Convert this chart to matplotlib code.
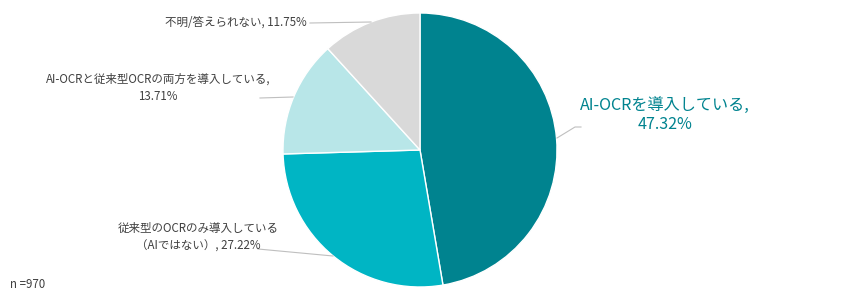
import matplotlib
matplotlib.use("Agg")
import matplotlib.pyplot as plt

plt.rcParams["font.family"] = ["Noto Sans CJK JP", "DejaVu Sans"]

labels = [
    "AI-OCRを導入している,\n47.32%",
    "従来型のOCRのみ導入している\n（AIではない）, 27.22%",
    "AI-OCRと従来型OCRの両方を導入している,\n13.71%",
    "不明/答えられない, 11.75%",
]
values = [47.32, 27.22, 13.71, 11.75]
colors = ["#00838F", "#00B5C4", "#B8E6E8", "#D9D9D9"]

fig = plt.figure(figsize=(8.5, 2.96), dpi=100)
ax = fig.add_axes([0, 0, 1, 1])

cx, cy, r = 420, 150, 137
# y axis runs downward (pixel coords), so counterclock in data = clockwise on screen
ax.pie(values, colors=colors, startangle=-90, counterclock=True,
       center=(cx, cy), radius=r, frame=True,
       wedgeprops=dict(edgecolor="white", linewidth=1))
ax.set_xlim(0, 850)
ax.set_ylim(296, 0)
ax.set_aspect("equal")
ax.axis("off")

text_col = "#404040"
line_col = "#BFBFBF"

# AI-OCR
ax.plot([557, 575, 581], [138, 127, 127], color=line_col, lw=0.8)
ax.text(665, 115, labels[0], ha="center", va="center", fontsize=11.6,
        color="#00838F", linespacing=1.15)

# 従来型
ax.plot([258, 333], [249, 256], color=line_col, lw=0.8)
ax.text(198, 237, labels[1], ha="center", va="center", fontsize=8.3,
        color=text_col, linespacing=1.45)

# 両方
ax.plot([260, 293], [98, 97], color=line_col, lw=0.8)
ax.text(158, 88, labels[2], ha="center", va="center", fontsize=8.3,
        color=text_col, linespacing=1.45)

# 不明
ax.plot([310, 371], [23, 22], color=line_col, lw=0.8)
ax.text(307, 22, labels[3], ha="right", va="center", fontsize=8.3,
        color=text_col)

ax.text(10, 285, "n =970", ha="left", va="center", fontsize=8.3, color=text_col)

fig.savefig("out.png", dpi=100)
